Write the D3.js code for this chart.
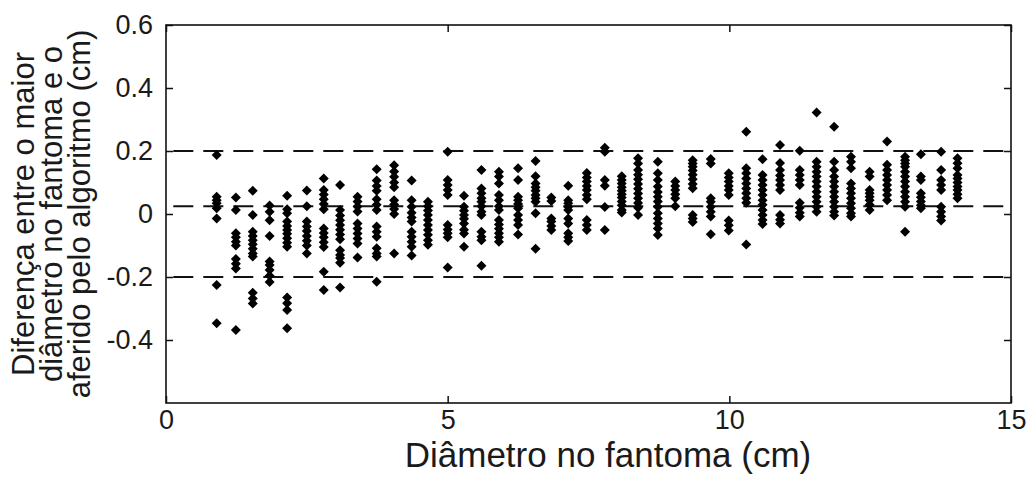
<!DOCTYPE html>
<html>
<head>
<meta charset="utf-8">
<script src="https://cdn.jsdelivr.net/npm/d3@7"></script>
<style>
  html, body { margin: 0; padding: 0; background: #fff; }
  svg { display: block; }
  text { font-family: Arial, "Liberation Sans", Helvetica, sans-serif; fill: #1a1a1a; }
</style>
</head>
<body>
<script>
// ---- data ----
const diameters = [0.90, 1.24, 1.54, 1.84, 2.15, 2.50, 2.80, 3.09, 3.40, 3.74, 4.05, 4.36, 4.65, 5.00, 5.29,
  5.60, 5.91, 6.25, 6.56, 6.84, 7.14, 7.47, 7.79, 8.09, 8.38, 8.73, 9.04, 9.35, 9.67, 9.99,
  10.30, 10.59, 10.90, 11.25, 11.55, 11.86, 12.16, 12.49, 12.80, 13.12, 13.40, 13.76, 14.05];

const differences = [
  [0.187, 0.055, 0.044, 0.034, 0.018, -0.014, -0.225, -0.347],
  [0.052, 0.013, -0.061, -0.074, -0.088, -0.1, -0.143, -0.158, -0.173, -0.368],
  [0.074, -0.003, -0.056, -0.07, -0.083, -0.096, -0.11, -0.125, -0.135, -0.25, -0.268, -0.284],
  [0.027, 0.007, -0.02, -0.07, -0.151, -0.162, -0.178, -0.196, -0.216],
  [0.058, 0.015, 0.002, -0.024, -0.038, -0.051, -0.063, -0.077, -0.091, -0.104, -0.265, -0.283, -0.305, -0.363],
  [0.075, 0.025, -0.024, -0.04, -0.054, -0.07, -0.085, -0.1, -0.125],
  [0.113, 0.076, 0.062, 0.047, 0.032, 0.015, -0.046, -0.06, -0.074, -0.09, -0.105, -0.183, -0.241],
  [0.092, 0.013, -0.005, -0.02, -0.035, -0.05, -0.065, -0.08, -0.115, -0.13, -0.14, -0.155, -0.233],
  [0.055, 0.04, 0.024, 0.008, -0.03, -0.046, -0.062, -0.078, -0.094, -0.138],
  [0.142, 0.106, 0.089, 0.074, 0.047, 0.029, 0.013, -0.04, -0.056, -0.072, -0.109, -0.125, -0.135, -0.215],
  [0.155, 0.135, 0.118, 0.1, 0.085, 0.044, 0.03, 0.016, 0.0, -0.125],
  [0.106, 0.044, 0.023, 0.004, -0.011, -0.024, -0.056, -0.072, -0.088, -0.104, -0.132],
  [0.039, 0.025, 0.011, -0.003, -0.019, -0.035, -0.051, -0.066, -0.083, -0.098],
  [0.198, 0.108, 0.092, 0.076, 0.06, -0.035, -0.049, -0.061, -0.074, -0.17],
  [0.058, 0.023, 0.01, -0.003, -0.015, -0.03, -0.05, -0.062, -0.104],
  [0.14, 0.081, 0.066, 0.05, 0.039, 0.025, 0.007, -0.003, -0.056, -0.072, -0.083, -0.164],
  [0.134, 0.119, 0.097, 0.06, 0.044, 0.025, 0.013, -0.019, -0.033, -0.047, -0.061, -0.074, -0.088],
  [0.145, 0.108, 0.055, 0.044, 0.032, 0.018, -0.003, -0.019, -0.035, -0.065],
  [0.168, 0.12, 0.097, 0.085, 0.074, 0.06, 0.05, 0.039, 0.002, -0.11],
  [0.052, 0.041, -0.014, -0.024, -0.038, -0.051],
  [0.09, 0.044, 0.034, 0.023, 0.013, -0.014, -0.03, -0.061, -0.074, -0.086],
  [0.13, 0.116, 0.103, 0.089, 0.076, 0.06, 0.047, -0.019, -0.035, -0.051],
  [0.21, 0.198, 0.108, 0.09, 0.022, -0.051],
  [0.12, 0.108, 0.097, 0.085, 0.074, 0.063, 0.052, 0.04, 0.028, 0.013, 0.005],
  [0.177, 0.16, 0.14, 0.125, 0.11, 0.095, 0.08, 0.065, 0.05, 0.035, 0.02, -0.003],
  [0.166, 0.129, 0.108, 0.087, 0.07, 0.055, 0.04, 0.023, 0.002, -0.014, -0.03, -0.046, -0.067],
  [0.103, 0.089, 0.076, 0.063, 0.05, 0.025],
  [0.171, 0.16, 0.15, 0.138, 0.125, 0.11, 0.095, 0.082, -0.003, -0.014, -0.025],
  [0.175, 0.16, 0.05, 0.039, 0.023, 0.007, -0.008, -0.064],
  [0.129, 0.116, 0.103, 0.089, 0.076, 0.06, -0.021, -0.036, -0.052],
  [0.261, 0.145, 0.129, 0.113, 0.097, 0.081, 0.066, 0.05, 0.036, -0.097],
  [0.174, 0.124, 0.108, 0.092, 0.076, 0.06, 0.044, 0.029, 0.013, -0.003, -0.019, -0.032],
  [0.219, 0.162, 0.14, 0.122, 0.108, 0.092, 0.076, -0.003, -0.018, -0.03],
  [0.201, 0.14, 0.124, 0.108, 0.092, 0.036, 0.02, 0.004, -0.008],
  [0.322, 0.166, 0.15, 0.134, 0.119, 0.103, 0.087, 0.071, 0.055, 0.039, 0.023, 0.007],
  [0.277, 0.166, 0.14, 0.119, 0.103, 0.087, 0.071, 0.055, 0.039, 0.023, 0.007, -0.005],
  [0.182, 0.166, 0.145, 0.097, 0.081, 0.066, 0.05, 0.034, 0.018, 0.002, -0.008],
  [0.134, 0.119, 0.076, 0.066, 0.055, 0.044, 0.029, 0.013],
  [0.23, 0.156, 0.14, 0.124, 0.108, 0.092, 0.076, 0.06, 0.044],
  [0.182, 0.171, 0.16, 0.15, 0.134, 0.119, 0.103, 0.087, 0.071, 0.055, 0.039, 0.023, -0.056],
  [0.19, 0.119, 0.108, 0.066, 0.053, 0.04, 0.028, 0.018],
  [0.198, 0.14, 0.108, 0.092, 0.076, 0.023, 0.007, -0.008, -0.021],
  [0.177, 0.161, 0.145, 0.124, 0.113, 0.1, 0.087, 0.076, 0.063, 0.05]
];

const referenceLines = [0.2, 0.0245, -0.2];
const xTicks = [0, 5, 10, 15];
const yTicks = [-0.4, -0.2, 0, 0.2, 0.4, 0.6];
const xDomain = [0, 15];
const yDomain = [-0.6, 0.6];
const xLabel = "Diâmetro no fantoma (cm)";
const yLabelLines = ["Diferença entre o maior", "diâmetro no fantoma e o", "aferido pelo algoritmo (cm)"];

// ---- drawing ----
(function () {
const W = 1028, H = 477;
const mLeft = 166, mRight = 1011, mTop = 25, mBottom = 403;

const svg = d3.select("body").append("svg").attr("width", W).attr("height", H);
svg.append("rect").attr("width", W).attr("height", H).attr("fill", "#fff");

const x = d3.scaleLinear().domain(xDomain).range([mLeft, mRight]);
const y = d3.scaleLinear().domain(yDomain).range([mBottom, mTop]);

const points = [];
diameters.forEach((d, i) => differences[i].forEach(v => points.push({ d, v })));

// reference lines (dashed)
svg.append("g").selectAll("line").data(referenceLines).join("line")
  .attr("x1", x(xDomain[0])).attr("x2", x(xDomain[1]) - 2)
  .attr("y1", d => y(d)).attr("y2", d => y(d))
  .attr("stroke", "#111").attr("stroke-width", 2)
  .attr("stroke-dasharray", "20,10").attr("stroke-dashoffset", 22.7);

// markers (filled diamonds)
const diamond = { draw(ctx, size) { const r = Math.sqrt(size) / 2; ctx.moveTo(0, -r); ctx.lineTo(r, 0); ctx.lineTo(0, r); ctx.lineTo(-r, 0); ctx.closePath(); } };
svg.append("g").selectAll("path").data(points).join("path")
  .attr("d", d3.symbol().type(diamond).size(100))
  .attr("transform", p => `translate(${x(p.d)},${y(p.v)})`)
  .attr("fill", "#000");

const fmt = d => d === 0 ? "0" : String(+d.toFixed(1));

// axes
const gL = svg.append("g").attr("transform", `translate(${mLeft},0)`)
  .call(d3.axisLeft(y).tickValues(yTicks).tickSize(-7).tickPadding(13).tickFormat(fmt));
const gR = svg.append("g").attr("transform", `translate(${mRight},0)`)
  .call(d3.axisRight(y).tickValues(yTicks).tickSize(-7).tickFormat(""));
const gB = svg.append("g").attr("transform", `translate(0,${mBottom})`)
  .call(d3.axisBottom(x).tickValues(xTicks).tickSize(-7).tickPadding(7).tickFormat(d3.format("d")));
const gT = svg.append("g").attr("transform", `translate(0,${mTop})`)
  .call(d3.axisTop(x).tickValues(xTicks).tickSize(-7).tickFormat(""));

[gL, gR, gB, gT].forEach(g => {
  g.select(".domain").remove();
  g.selectAll(".tick line").attr("stroke", "#111").attr("stroke-width", 1.5);
  g.selectAll("text").attr("font-size", 27).attr("fill", "#1a1a1a")
    .attr("font-family", "Arial, 'Liberation Sans', Helvetica, sans-serif");
});

svg.append("rect").attr("x", mLeft).attr("y", mTop)
  .attr("width", mRight - mLeft).attr("height", mBottom - mTop)
  .attr("fill", "none").attr("stroke", "#111").attr("stroke-width", 1.6);

// labels
svg.append("text").attr("x", 608).attr("y", 467)
  .attr("text-anchor", "middle").attr("font-size", 35).text(xLabel);

const yl = svg.append("g").attr("transform", `translate(0,${(mTop + mBottom) / 2}) rotate(-90)`);
yl.selectAll("text").data(yLabelLines).join("text")
  .attr("x", 0).attr("y", (d, i) => 34 + i * 28)
  .attr("text-anchor", "middle").attr("font-size", 31).text(d => d);
})();
</script>
</body>
</html>
